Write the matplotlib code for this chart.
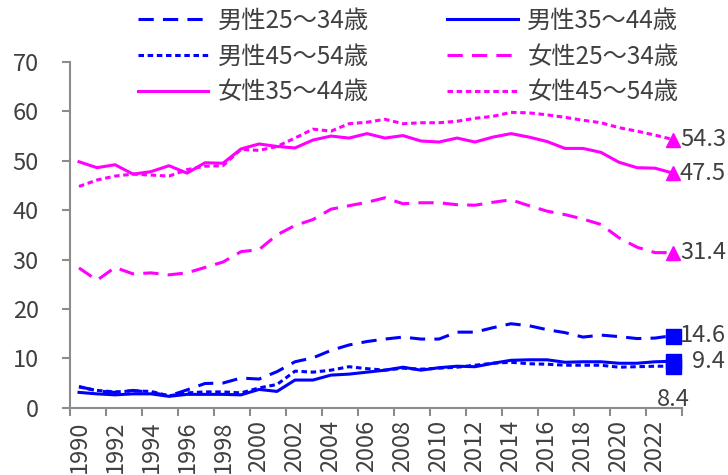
import matplotlib.pyplot as plt
import numpy as np

plt.rcParams['font.family'] = ['Noto Sans CJK JP', 'DejaVu Sans']

years = list(range(1990, 2024))

# 男性
m25 = [4.3, 3.4, 3.1, 3.5, 3.1, 2.4, 3.6, 4.9, 5.0, 6.0,
       5.8, 7.3, 9.3, 10.1, 11.6, 12.7, 13.4, 13.9, 14.3, 13.9,
       13.9, 15.3, 15.3, 16.2, 17.0, 16.6, 15.8, 15.2, 14.3, 14.7,
       14.4, 14.0, 14.1, 14.6]
m35 = [3.1, 2.8, 2.6, 2.8, 2.8, 2.3, 2.7, 2.7, 2.7, 2.6,
       3.7, 3.3, 5.6, 5.6, 6.6, 6.8, 7.2, 7.6, 8.2, 7.6,
       8.1, 8.4, 8.3, 9.0, 9.6, 9.7, 9.7, 9.2, 9.3, 9.3,
       9.0, 9.0, 9.3, 9.4]
m45 = [4.2, 3.5, 3.2, 3.4, 3.3, 2.4, 3.0, 3.2, 3.2, 3.0,
       4.0, 4.7, 7.4, 7.2, 7.6, 8.3, 7.9, 7.6, 8.0, 7.8,
       8.0, 8.2, 8.6, 9.0, 9.2, 8.9, 8.8, 8.6, 8.6, 8.6,
       8.2, 8.3, 8.4, 8.4]

# 女性
f25 = [28.3, 25.8, 28.4, 27.1, 27.3, 26.9, 27.3, 28.4, 29.5, 31.6,
       32.0, 35.0, 36.9, 38.1, 40.2, 40.9, 41.6, 42.5, 41.3, 41.5,
       41.5, 41.1, 41.0, 41.6, 42.1, 40.9, 39.8, 39.1, 38.2, 37.1,
       34.4, 32.5, 31.4, 31.4]
f35 = [49.8, 48.6, 49.2, 47.3, 47.8, 49.0, 47.5, 49.6, 49.5, 52.4,
       53.4, 52.9, 52.6, 54.2, 55.0, 54.6, 55.5, 54.6, 55.1, 54.0,
       53.8, 54.6, 53.8, 54.8, 55.5, 54.8, 53.9, 52.5, 52.5, 51.7,
       49.7, 48.6, 48.5, 47.5]
f45 = [44.8, 46.1, 46.9, 47.3, 47.1, 46.9, 48.2, 48.9, 49.0, 52.3,
       52.1, 52.9, 54.6, 56.4, 56.0, 57.5, 57.8, 58.4, 57.5, 57.7,
       57.7, 58.0, 58.6, 59.0, 59.8, 59.7, 59.3, 58.8, 58.2, 57.7,
       56.7, 56.0, 55.2, 54.3]

blue = '#0000ff'
pink = '#ff00ff'
txt = '#404040'
axc = '#8c8c8c'
lw = 2.2
dash = (0, (5, 3))
dot = (0, (1.8, 1.2))

series = [
    ('男性25～34歳', m25, blue, dash, 's'),
    ('男性35～44歳', m35, blue, '-', 's'),
    ('男性45～54歳', m45, blue, dot, 's'),
    ('女性25～34歳', f25, pink, dash, '^'),
    ('女性35～44歳', f35, pink, '-', '^'),
    ('女性45～54歳', f45, pink, dot, '^'),
]

fig = plt.figure(figsize=(7.28, 4.75), dpi=100)
ax = fig.add_axes([70 / 728, 67.3 / 475, 612 / 728, 345.7 / 475])

x = np.arange(len(years))
lines = {}
for name, vals, col, ls, mk in series:
    ln, = ax.plot(x, vals, color=col, linestyle=ls, lw=lw, label=name)
    lines[name] = ln
    ax.plot(x[-1], vals[-1], marker=mk, color=col, markersize=10.8 if mk == 's' else 10,
            linestyle='none')

# 最終年のラベル
labels = [
    (f45[-1], (5, 0), 'left', 'center'),
    (f35[-1], (5, 0), 'left', 'center'),
    (f25[-1], (5, 0), 'left', 'center'),
    (m25[-1], (5, 0), 'left', 'center'),
    (m35[-1], (14, 0), 'left', 'center'),
    (m45[-1], (0, -24), 'center', 'center'),
]
for v, off, ha, va in labels:
    ax.annotate(f'{v:.1f}', (x[-1], v), xytext=off, textcoords='offset points',
                ha=ha, va=va, fontsize=17, color=txt, annotation_clip=False)

ax.set_xlim(-0.5, len(years) - 0.5)
ax.set_ylim(0, 70)
ax.set_yticks(range(0, 71, 10))
ax.set_xticks(x[::2])
ax.set_xticklabels([str(y) for y in years[::2]], rotation=90)
ax.set_xticks(np.arange(-0.5, len(years), 2), minor=True)

ax.tick_params(axis='x', which='major', length=0, pad=9, labelsize=17, labelcolor=txt)
ax.tick_params(axis='x', which='minor', length=5.5, width=1.5, color=axc, direction='out')
ax.tick_params(axis='y', length=5.5, width=1.5, color=axc, pad=17, labelsize=17,
               labelcolor=txt)

for s in ['top', 'right']:
    ax.spines[s].set_visible(False)
for s in ['left', 'bottom']:
    ax.spines[s].set_color(axc)
    ax.spines[s].set_linewidth(1.5)

order = ['男性25～34歳', '男性45～54歳', '女性35～44歳',
         '男性35～44歳', '女性25～34歳', '女性45～54歳']
fig.legend([lines[k] for k in order], order, ncol=2, loc='upper left',
           bbox_to_anchor=(138 / 728, 1 - 8 / 475), frameon=False, fontsize=17.5,
           handlelength=2.9, handletextpad=0.4, columnspacing=3.2,
           labelspacing=0.4, borderpad=0, borderaxespad=0, labelcolor=txt)

fig.savefig('out.png', dpi=100)
